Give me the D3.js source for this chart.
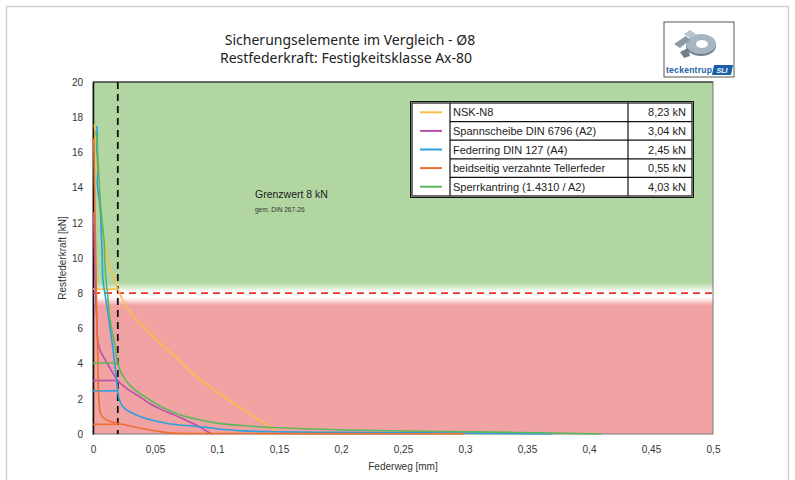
<!DOCTYPE html>
<html>
<head>
<meta charset="utf-8">
<script src="https://cdn.jsdelivr.net/npm/d3@7"></script>
<style>
  body { margin: 0; background: #fff; }
  svg { display: block; }
</style>
</head>
<body>
<div id="chart"></div>
<script>
// series names, values at 0,02 mm and colours
const seriesNames = ["NSK-N8", "Spannscheibe DIN 6796 (A2)", "Federring DIN 127 (A4)", "beidseitig verzahnte Tellerfeder", "Sperrkantring (1.4310 / A2)"]
const seriesValues = [8.23, 3.04, 2.45, 0.55, 4.03]
const seriesColors = ["#fbbf45", "#b94fae", "#2c9fe0", "#ef6e2e", "#5cb85c"]

// curves [Federweg mm, Restfederkraft kN]
const nskN8 = [[0.001,17.6],[0.002,16.9],[0.0025,16.3],[0.003,15.2],[0.004,14.1],[0.005,13.0],[0.007,11.9],[0.009,11.2],[0.011,10.2],[0.013,9.6],[0.016,9.0],[0.018,8.6],[0.02,8.23],[0.023,7.75],[0.027,7.2],[0.032,6.75],[0.038,6.3],[0.045,5.8],[0.052,5.3],[0.06,4.8],[0.068,4.3],[0.078,3.6],[0.088,3.0],[0.097,2.55],[0.105,2.15],[0.113,1.75],[0.12,1.45],[0.127,1.1],[0.135,0.75],[0.143,0.4],[0.148,0.15],[0.151,0.02]]
const spannscheibe = [[0.0005,12.6],[0.001,11.0],[0.0015,9.5],[0.002,8.0],[0.003,6.6],[0.004,5.2],[0.006,4.7],[0.01,4.2],[0.014,3.7],[0.02,3.04],[0.025,2.7],[0.03,2.45],[0.038,2.1],[0.046,1.72],[0.055,1.4],[0.065,1.1],[0.072,0.88],[0.078,0.68],[0.084,0.48],[0.089,0.28],[0.093,0.1],[0.096,0.0]]
const federring = [[0.003,17.5],[0.0035,17.0],[0.003,16.4],[0.004,15.0],[0.0035,14.2],[0.005,13.3],[0.006,12.6],[0.0065,11.8],[0.007,10.9],[0.0075,10.0],[0.008,8.75],[0.01,7.8],[0.012,6.9],[0.014,5.9],[0.016,4.9],[0.0175,4.0],[0.019,3.1],[0.02,2.45],[0.021,2.0],[0.024,1.55],[0.03,1.25],[0.039,0.97],[0.048,0.78],[0.06,0.6],[0.075,0.48],[0.088,0.4],[0.1,0.3],[0.12,0.18],[0.15,0.12],[0.2,0.09],[0.25,0.07],[0.3,0.05],[0.34,0.03],[0.37,0.01]]
const tellerfeder = [[0.0005,16.8],[0.001,15.2],[0.0015,13.0],[0.002,11.0],[0.0025,9.2],[0.003,7.0],[0.0035,5.5],[0.004,4.0],[0.0045,2.3],[0.006,1.2],[0.008,0.95],[0.011,0.8],[0.015,0.68],[0.02,0.6],[0.027,0.5],[0.036,0.36],[0.046,0.23],[0.055,0.12],[0.065,0.05],[0.1,0.03],[0.2,0.02],[0.3,0.01]]
const sperrkantring = [[0.002,17.2],[0.003,16.9],[0.004,15.6],[0.005,14.3],[0.006,13.1],[0.0075,12.0],[0.009,10.9],[0.0095,9.9],[0.0105,8.75],[0.012,7.8],[0.013,6.9],[0.0155,5.8],[0.018,4.9],[0.02,4.03],[0.022,3.6],[0.025,3.2],[0.03,2.75],[0.035,2.45],[0.04,2.2],[0.05,1.75],[0.06,1.38],[0.07,1.1],[0.085,0.82],[0.1,0.62],[0.12,0.48],[0.137,0.4],[0.17,0.3],[0.205,0.23],[0.25,0.17],[0.31,0.12],[0.36,0.07],[0.41,0.0]]
const curves = [nskN8, spannscheibe, federring, tellerfeder, sperrkantring]

const xTicks = [0, 0.05, 0.1, 0.15, 0.2, 0.25, 0.3, 0.35, 0.4, 0.45, 0.5]
const yTicks = [0, 2, 4, 6, 8, 10, 12, 14, 16, 18, 20]
const grenzwert = 8
const messweg = 0.02

const width = 795, height = 480
const margin = { top: 82, right: 82, bottom: 46, left: 93 }
const plotW = width - margin.left - margin.right
const plotH = height - margin.top - margin.bottom

let svg = d3.select("#chart").append("svg")
    .attr("width", width)
    .attr("height", height)

// outer frame
svg.append("rect")
    .attr("x", 6.5).attr("y", 6.5)
    .attr("width", 782).attr("height", 480)
    .attr("fill", "none").attr("stroke", "#d0d0d0").attr("stroke-width", 1.5)

let x = d3.scaleLinear().domain([0, 0.5]).range([0, plotW])
let y = d3.scaleLinear().domain([0, 20]).range([plotH, 0])

let chart = svg.append("g").attr("transform", `translate(${margin.left},${margin.top})`)

// background: green above limit, red below, white band at limit
let defs = svg.append("defs")
let grad = defs.append("linearGradient").attr("id", "bg").attr("x1", 0).attr("x2", 0).attr("y1", 0).attr("y2", 1)
let yLim = y(grenzwert) / plotH
const stops = [
  [0, "#b1d6a1"], [yLim - 0.03, "#b1d6a1"], [yLim - 0.003, "#ffffff"],
  [yLim + 0.012, "#ffffff"], [yLim + 0.035, "#f0a3a2"], [1, "#f0a3a2"]
]
stops.forEach(s => grad.append("stop").attr("offset", s[0]).attr("stop-color", s[1]))

chart.append("rect")
    .attr("width", plotW).attr("height", plotH)
    .attr("fill", "url(#bg)")
    .attr("stroke", "#777").attr("stroke-width", 1)

chart.append("line")
    .attr("x1", 0).attr("x2", plotW)
    .attr("y1", 0).attr("y2", 0)
    .attr("stroke", "#222").attr("stroke-width", 1.2)

// axes
let xAxis = d3.axisBottom(x).tickValues(xTicks).tickSize(0).tickPadding(12)
    .tickFormat(d => String(d).replace(".", ","))
let yAxis = d3.axisLeft(y).tickValues(yTicks).tickSize(0).tickPadding(10)

let gx = chart.append("g").attr("transform", `translate(0,${plotH})`).call(xAxis)
let gy = chart.append("g").call(yAxis)
gx.select(".domain").remove()
gy.select(".domain").attr("stroke", "#111").attr("stroke-width", 1.5)
svg.selectAll(".tick text")
    .attr("font-family", "Liberation Sans, Arial, sans-serif")
    .attr("font-size", 10).attr("fill", "#333")

// limit lines
chart.append("line")
    .attr("x1", 0).attr("x2", plotW)
    .attr("y1", y(grenzwert)).attr("y2", y(grenzwert))
    .attr("stroke", "#e8302e").attr("stroke-width", 1.8)
    .attr("stroke-dasharray", "7,5")

chart.append("line")
    .attr("x1", x(messweg)).attr("x2", x(messweg))
    .attr("y1", 0).attr("y2", plotH)
    .attr("stroke", "#111").attr("stroke-width", 1.8)
    .attr("stroke-dasharray", "7,5")

// curves
let line = d3.line().x(d => x(d[0])).y(d => y(d[1])).curve(d3.curveCatmullRom.alpha(0.5))
curves.forEach((c, i) => {
  chart.append("path")
      .datum(c)
      .attr("d", line)
      .attr("fill", "none")
      .attr("stroke", seriesColors[i])
      .attr("stroke-width", 1.6)
  // value at 0,02 mm
  chart.append("line")
      .attr("x1", x(0)).attr("x2", x(messweg))
      .attr("y1", y(seriesValues[i])).attr("y2", y(seriesValues[i]))
      .attr("stroke", seriesColors[i]).attr("stroke-width", 1.6)
})

// Grenzwert label
chart.append("text")
    .attr("x", 162).attr("y", 116)
    .attr("font-family", "Liberation Sans, Arial, sans-serif")
    .attr("font-size", 10.5).attr("fill", "#222")
    .text("Grenzwert 8 kN")
chart.append("text")
    .attr("x", 162).attr("y", 130)
    .attr("font-family", "Liberation Sans, Arial, sans-serif")
    .attr("font-size", 6.5).attr("fill", "#333")
    .text("gem. DIN 267-26")

// legend table
const lgX = 412, lgY = 103, rowH = 18.6
const col1 = 38, col2 = 178, col3 = 64
let lg = svg.append("g").attr("transform", `translate(${lgX},${lgY})`)
lg.append("rect")
    .attr("x", -1.5).attr("y", -1.5)
    .attr("width", col1 + col2 + col3 + 3).attr("height", rowH * 5 + 3)
    .attr("fill", "#fff").attr("stroke", "#111").attr("stroke-width", 1)
lg.append("rect")
    .attr("width", col1 + col2 + col3).attr("height", rowH * 5)
    .attr("fill", "#fff").attr("stroke", "#111").attr("stroke-width", 1.2)
seriesNames.forEach((n, i) => {
  let ry = i * rowH
  if (i > 0) {
    lg.append("line").attr("x1", col1).attr("x2", col1 + col2 + col3)
        .attr("y1", ry).attr("y2", ry).attr("stroke", "#111").attr("stroke-width", 1.2)
  }
  lg.append("line")
      .attr("x1", 8).attr("x2", 30)
      .attr("y1", ry + rowH / 2).attr("y2", ry + rowH / 2)
      .attr("stroke", seriesColors[i]).attr("stroke-width", 2)
  lg.append("text")
      .attr("x", col1 + 3).attr("y", ry + rowH / 2 + 4)
      .attr("font-family", "Liberation Sans, Arial, sans-serif")
      .attr("font-size", 11).attr("fill", "#222")
      .text(n)
  lg.append("text")
      .attr("x", col1 + col2 + col3 - 6).attr("y", ry + rowH / 2 + 4)
      .attr("text-anchor", "end")
      .attr("font-family", "Liberation Sans, Arial, sans-serif")
      .attr("font-size", 11).attr("fill", "#222")
      .text(seriesValues[i].toFixed(2).replace(".", ",") + " kN")
})
lg.append("line").attr("x1", col1).attr("x2", col1).attr("y1", 0).attr("y2", rowH * 5).attr("stroke", "#111").attr("stroke-width", 1.2)
lg.append("line").attr("x1", col1 + col2).attr("x2", col1 + col2).attr("y1", 0).attr("y2", rowH * 5).attr("stroke", "#111").attr("stroke-width", 1.2)

// titles
svg.append("text")
    .attr("x", 350).attr("y", 45)
    .attr("text-anchor", "middle")
    .attr("font-family", "Noto Sans, sans-serif")
    .attr("font-size", 14).attr("fill", "#222")
    .text("Sicherungselemente im Vergleich - Ø8")
svg.append("text")
    .attr("x", 346).attr("y", 63)
    .attr("text-anchor", "middle")
    .attr("font-family", "Noto Sans, sans-serif")
    .attr("font-size", 14).attr("fill", "#222")
    .text("Restfederkraft: Festigkeitsklasse Ax-80")

svg.append("text")
    .attr("transform", `translate(66,${margin.top + plotH / 2}) rotate(-90)`)
    .attr("text-anchor", "middle")
    .attr("font-family", "Liberation Sans, Arial, sans-serif")
    .attr("font-size", 10).attr("fill", "#333")
    .text("Restfederkraft [kN]")
svg.append("text")
    .attr("x", margin.left + plotW / 2).attr("y", 470)
    .attr("text-anchor", "middle")
    .attr("font-family", "Liberation Sans, Arial, sans-serif")
    .attr("font-size", 10).attr("fill", "#333")
    .text("Federweg [mm]")

// logo
let logo = svg.append("g").attr("transform", "translate(664,22)")
logo.append("rect").attr("width", 70).attr("height", 55).attr("fill", "#fff").attr("stroke", "#555").attr("stroke-width", 1)
logo.append("ellipse").attr("cx", 37).attr("cy", 24).attr("rx", 15).attr("ry", 10).attr("fill", "#6f7f8c")
logo.append("ellipse").attr("cx", 37).attr("cy", 22).attr("rx", 15).attr("ry", 10).attr("fill", "#a7b5c0")
logo.append("ellipse").attr("cx", 38).attr("cy", 22).attr("rx", 6).attr("ry", 4).attr("fill", "#fff")
logo.append("path").attr("d", "M10,22 L22,14 L26,18 L16,26 Z").attr("fill", "#8a99a6")
logo.append("path").attr("d", "M20,12 L26,8 L32,12 L26,16 Z").attr("fill", "#b9c5ce")
logo.append("path").attr("d", "M16,30 L24,26 L26,34 L20,36 Z").attr("fill", "#6f7f8c")
logo.append("text").attr("x", 2).attr("y", 51)
    .attr("font-family", "Liberation Sans Narrow, Liberation Sans, sans-serif")
    .attr("font-weight", "bold").attr("font-size", 8.5).attr("fill", "#1b5fa8")
    .attr("textLength", 46).text("teckentrup")
logo.append("path").attr("d", "M50,43 L69,43 L67,53 L48,53 Z").attr("fill", "#1b5fa8")
logo.append("text").attr("x", 58).attr("y", 51).attr("text-anchor", "middle")
    .attr("font-family", "Liberation Sans, sans-serif").attr("font-style", "italic")
    .attr("font-weight", "bold").attr("font-size", 7).attr("fill", "#fff").text("SLI")
</script>
</body>
</html>
